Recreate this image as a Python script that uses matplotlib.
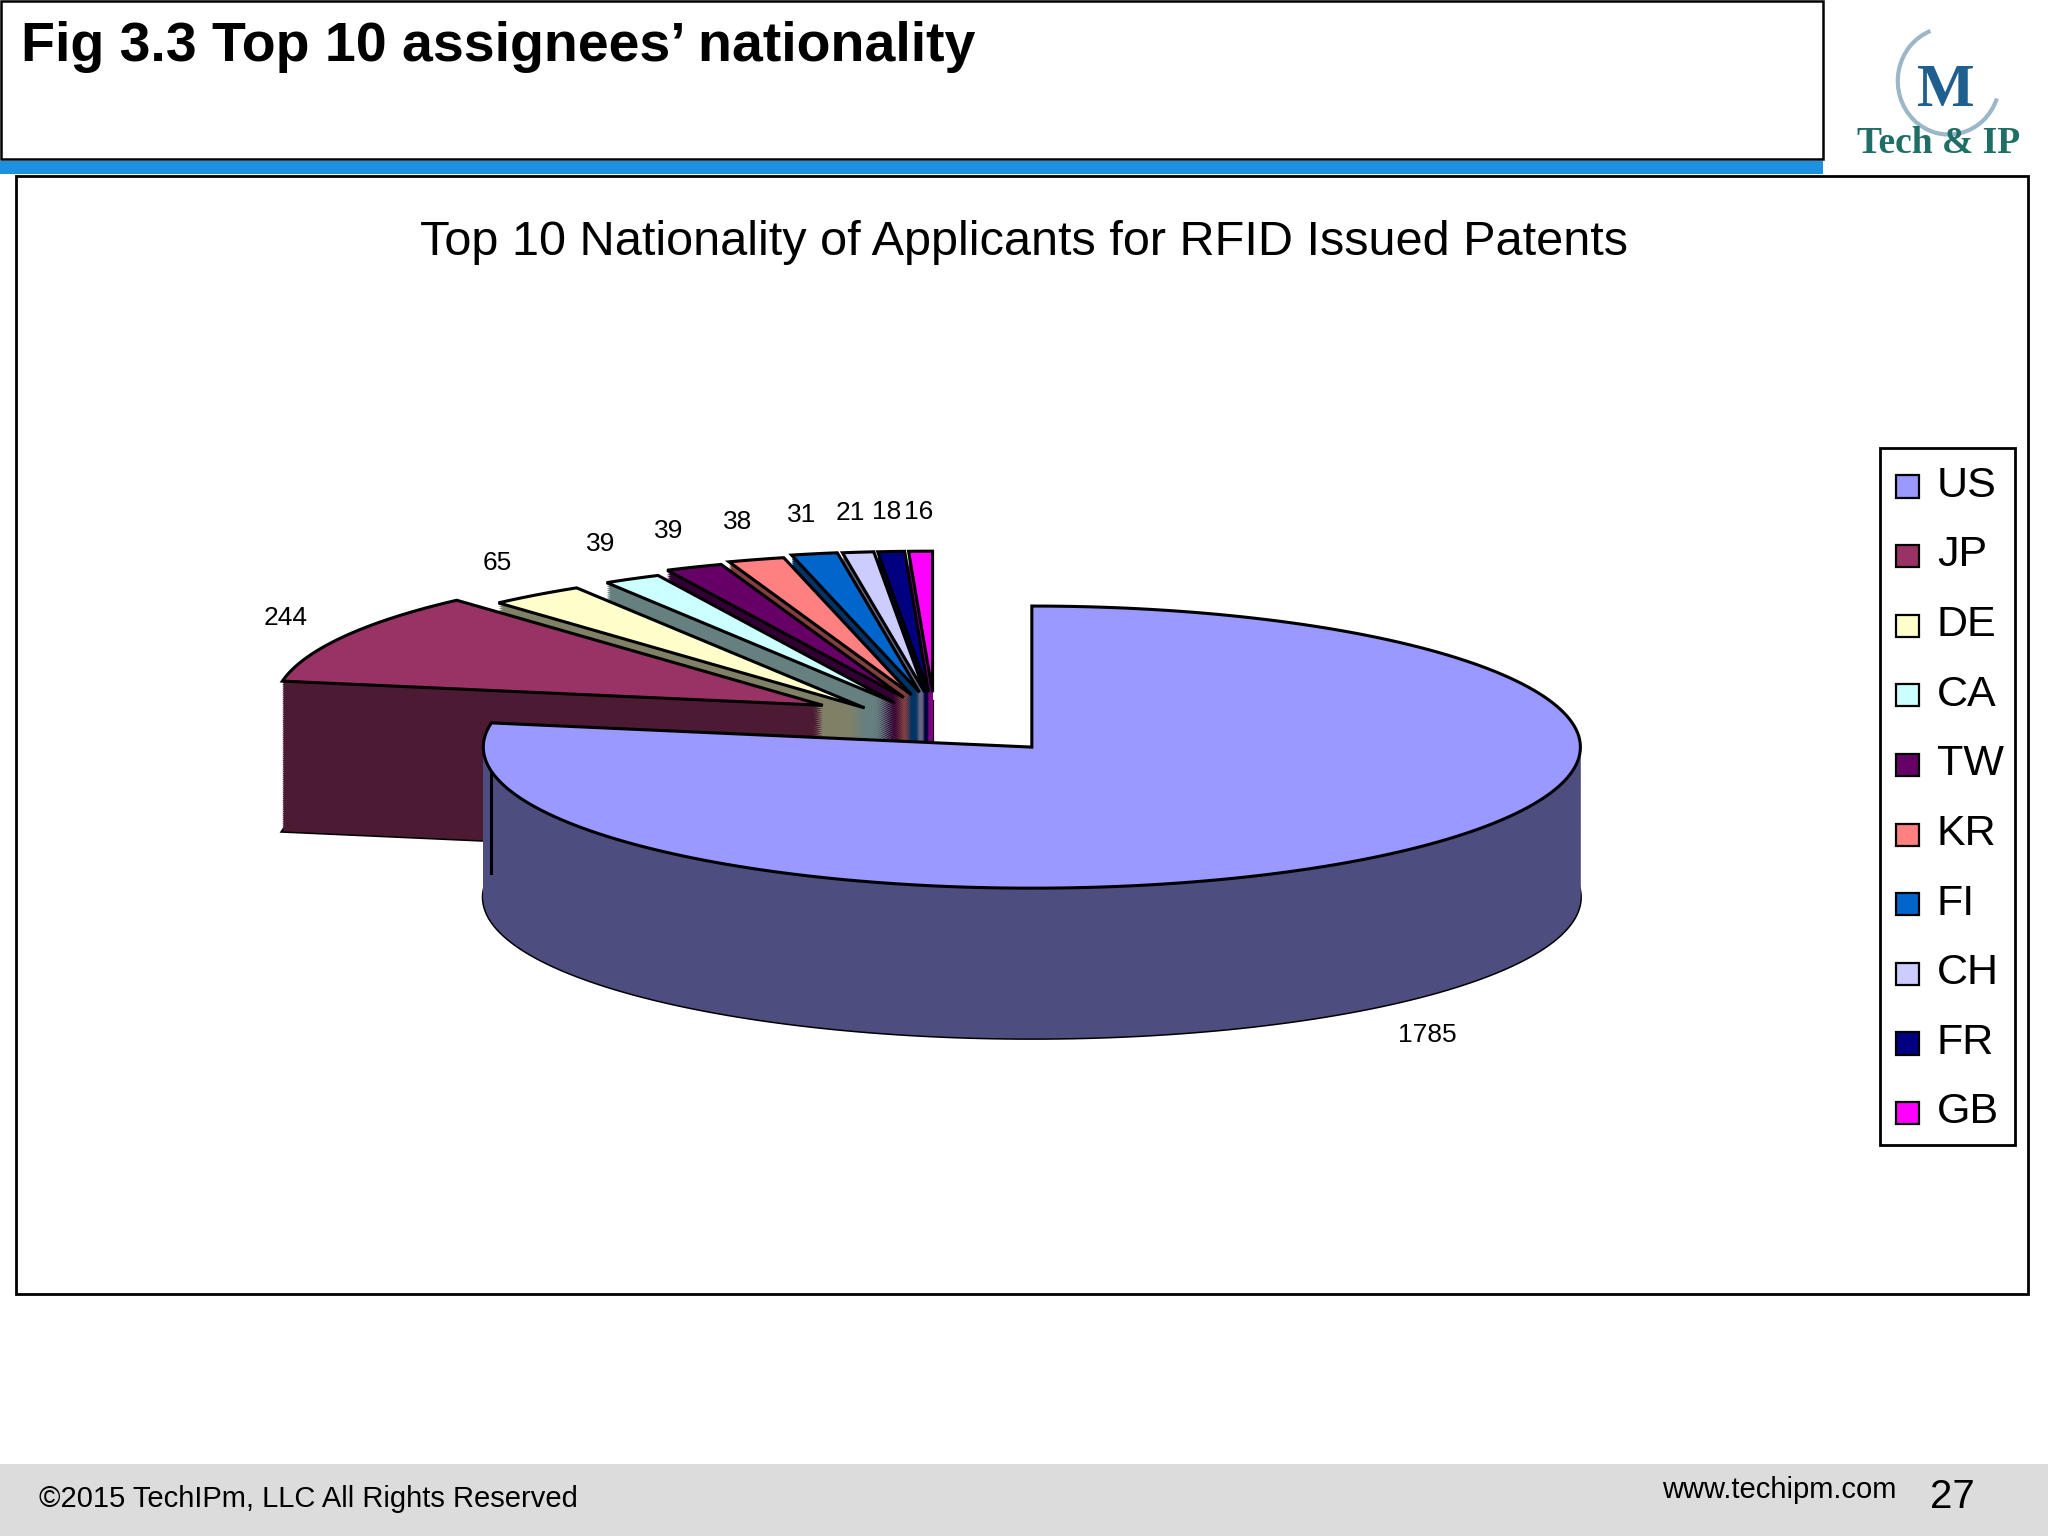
import numpy as np
import matplotlib
matplotlib.use("Agg")
import matplotlib.pyplot as plt
from matplotlib.patches import Polygon, Rectangle, Arc
import matplotlib.colors as mc

categories = ["US", "JP", "DE", "CA", "TW", "KR", "FI", "CH", "FR", "GB"]
values = [1785, 244, 65, 39, 39, 38, 31, 21, 18, 16]
colors = ["#9999FF", "#993366", "#FFFFCC", "#CCFFFF", "#660066", "#FF8080",
          "#0066CC", "#CCCCFF", "#000080", "#FF00FF"]

plt.rcParams['font.family'] = ['Liberation Sans', 'DejaVu Sans']
fig = plt.figure(figsize=(20.48, 15.36), dpi=100)
ax = fig.add_axes([0, 0, 1, 1])
ax.set_xlim(0, 1568); ax.set_ylim(1176, 0); ax.axis("off")

# header
ax.add_patch(Rectangle((1, 1), 1395, 121, fill=False, lw=1.8, ec="black"))
ax.add_patch(Rectangle((0, 123), 1396, 10, color="#1E90E0", lw=0))
ax.text(16, 36, "Fig 3.3 Top 10 assignees\u2019 nationality", fontsize=40, fontweight="bold", va="center")
ax.add_patch(Arc((1492, 62), 78, 82, theta1=20, theta2=250, color="#9BB7C8", lw=3))
ax.text(1490, 70, "M", fontsize=44, fontweight="bold", color="#1F5F8F",
        family=["Liberation Serif"], ha="center", va="center")
ax.text(1484, 110, "Tech & IP", fontsize=27, fontweight="bold", color="#1F6F66",
        family=["Liberation Serif"], ha="center", va="center")
# footer
ax.add_patch(Rectangle((0, 1121), 1568, 55, color="#DCDCDC", lw=0))
ax.text(30, 1148, "\u00a92015 TechIPm, LLC All Rights Reserved", fontsize=21, va="center")
ax.text(1452, 1141, "www.techipm.com", fontsize=21, va="center", ha="right")
ax.text(1512, 1146, "27", fontsize=29, va="center", ha="right")

# chart frame
ax.add_patch(Rectangle((12, 135), 1541, 856, fill=False, lw=2, ec="black"))
ax.text(784, 186, "Top 10 Nationality of Applicants for RFID Issued Patents", fontsize=35,
        ha="center", va="center")

cx, cy, rx, ry, depth = 790, 572, 420, 108, 115
offsets = [(0, 0), (-160, -32), (-128, -30), (-105, -34), (-98, -38), (-92, -40),
           (-86, -42), (-82, -42), (-79, -42), (-76, -42)]
total = sum(values)
angs = []
a = 90.0
for v in values:
    span = 360.0 * v / total
    angs.append((a - span, a))
    a -= span

def wedge(i):
    a0, a1 = angs[i]
    t = np.radians(np.linspace(a0, a1, 200))
    ox, oy = offsets[i]
    x = cx + ox + rx * np.cos(t)
    y = cy + oy - ry * np.sin(t)
    return np.concatenate([[cx + ox], x]), np.concatenate([[cy + oy], y])

def draw(i, z):
    x, y = wedge(i)
    dark = tuple(np.array(mc.to_rgb(colors[i])) * 0.5)
    ax.add_patch(Polygon(np.c_[x, y + depth], closed=True, fc=dark, ec="black", lw=2.2, zorder=z))
    for d in np.linspace(depth, 0, 80):
        ax.add_patch(Polygon(np.c_[x, y + d], closed=True, fc=dark, ec="none", zorder=z + 0.1))
    ax.add_patch(Polygon(np.c_[x, y], closed=True, fc=colors[i], ec="black", lw=2.2, zorder=z + 0.3))
    return x, y

for i in range(len(values) - 1, 0, -1):
    draw(i, 2 + (len(values) - i))
x0, y0 = draw(0, 20)
ax.plot([x0[-1], x0[-1]], [y0[-1], y0[-1] + depth], color="black", lw=2.2, zorder=20.2)
ax.plot([x0[1], x0[1]], [y0[1], y0[1] + depth], color="black", lw=2.2, zorder=20.2)

# labels
for i, v in enumerate(values):
    a0, a1 = angs[i]
    m = np.radians((a0 + a1) / 2)
    ox, oy = offsets[i]
    x = cx + ox + rx * 1.12 * np.cos(m)
    y = cy + oy - ry * 1.28 * np.sin(m)
    if np.sin(m) < 0:
        y += depth
    ax.text(x, y, str(v), fontsize=19, ha="center", va="center", zorder=30)

# legend
ax.add_patch(Rectangle((1439, 343), 104, 534, fc="white", ec="black", lw=2, zorder=30))
for i, c in enumerate(categories):
    yy = 372 + i * 53.3
    ax.add_patch(Rectangle((1452, yy - 8), 17, 17, fc=colors[i], ec="black", lw=1.6, zorder=31))
    ax.text(1483, yy, c, fontsize=31, va="center", zorder=31)

fig.savefig("out.png", dpi=100)
